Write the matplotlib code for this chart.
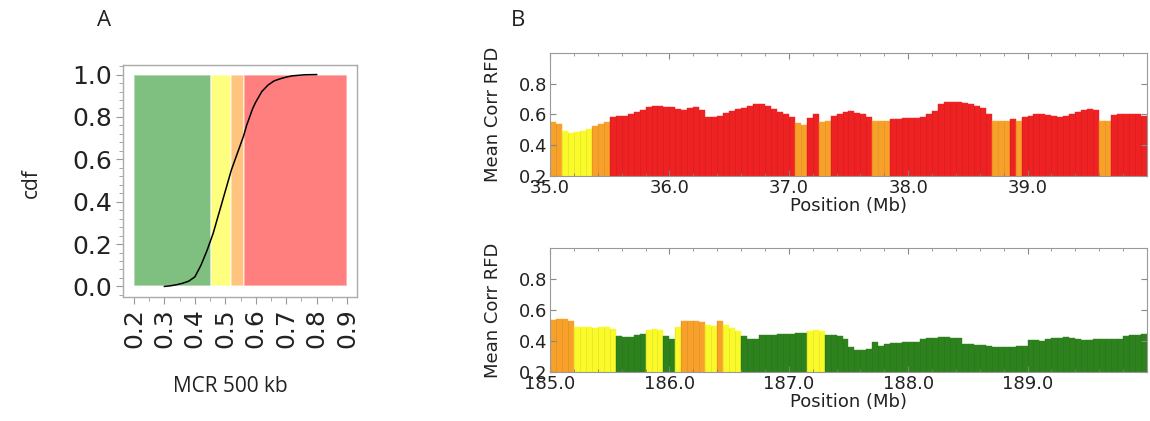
import numpy as np
import matplotlib
matplotlib.use("Agg")
import matplotlib.pyplot as plt
from matplotlib.ticker import MultipleLocator

# MCR cut-offs between the four classes (green / yellow / orange / red)
class_edges = [0.2, 0.453, 0.52, 0.563, 0.9]
span_colors = ["green", "yellow", "darkorange", "red"]
bar_colors = ["#2d821e", "#fafa2a", "#f7a02a", "#ee2222"]

# cumulative distribution of the 500 kb MCR
cdf_x = [0.30, 0.32, 0.34, 0.36, 0.38, 0.40, 0.42, 0.44, 0.46, 0.48,
         0.50, 0.52, 0.54, 0.56, 0.57, 0.58, 0.59, 0.60, 0.61, 0.62,
         0.63, 0.64, 0.65, 0.66, 0.68, 0.70, 0.72, 0.76, 0.80]
cdf_y = [0.0, 0.003, 0.008, 0.015, 0.025, 0.045, 0.10, 0.17, 0.25, 0.35,
         0.45, 0.55, 0.63, 0.71, 0.76, 0.80, 0.84, 0.87, 0.895, 0.92,
         0.935, 0.95, 0.96, 0.97, 0.98, 0.988, 0.994, 0.999, 1.0]

# mean corr RFD in 50 kb bins
bin_mb = 0.05
reg1_start = 35.0
reg1_rfd = [
    0.55, 0.54, 0.49, 0.48, 0.485, 0.495, 0.505, 0.525, 0.535, 0.55,
    0.585, 0.59, 0.59, 0.60, 0.615, 0.625, 0.645, 0.655, 0.655, 0.65,
    0.645, 0.635, 0.625, 0.64, 0.645, 0.625, 0.58, 0.585, 0.59, 0.61,
    0.62, 0.635, 0.64, 0.655, 0.67, 0.67, 0.655, 0.635, 0.615, 0.605,
    0.58, 0.545, 0.53, 0.575, 0.605, 0.55, 0.555, 0.59, 0.605, 0.615,
    0.62, 0.61, 0.60, 0.585, 0.555, 0.555, 0.555, 0.57, 0.57, 0.575,
    0.575, 0.575, 0.58, 0.60, 0.62, 0.665, 0.68, 0.68, 0.68, 0.675,
    0.665, 0.655, 0.64, 0.60, 0.555, 0.555, 0.555, 0.57, 0.555, 0.585,
    0.59, 0.60, 0.605, 0.595, 0.59, 0.585, 0.59, 0.60, 0.615, 0.625,
    0.635, 0.63, 0.555, 0.56, 0.595, 0.60, 0.60, 0.605, 0.60, 0.59,
]
reg2_start = 185.0
reg2_rfd = [
    0.535, 0.54, 0.54, 0.53, 0.49, 0.487, 0.487, 0.485, 0.487, 0.49,
    0.48, 0.43, 0.425, 0.425, 0.435, 0.445, 0.468, 0.478, 0.47, 0.43,
    0.41, 0.49, 0.53, 0.532, 0.53, 0.525, 0.50, 0.495, 0.53, 0.50,
    0.485, 0.465, 0.43, 0.415, 0.41, 0.44, 0.44, 0.44, 0.442, 0.445,
    0.447, 0.448, 0.45, 0.465, 0.468, 0.462, 0.44, 0.44, 0.43, 0.41,
    0.36, 0.34, 0.342, 0.35, 0.395, 0.37, 0.38, 0.385, 0.387, 0.39,
    0.39, 0.395, 0.41, 0.42, 0.42, 0.422, 0.422, 0.42, 0.42, 0.38,
    0.378, 0.375, 0.372, 0.37, 0.362, 0.36, 0.36, 0.362, 0.365, 0.368,
    0.405, 0.405, 0.402, 0.415, 0.418, 0.42, 0.422, 0.42, 0.415, 0.405,
    0.403, 0.41, 0.412, 0.41, 0.41, 0.41, 0.432, 0.435, 0.44, 0.447,
]

fig = plt.figure(figsize=(11.5, 4.21), dpi=100)

# ---- A: cdf with class bands
ax = fig.add_axes([0.107, 0.2945, 0.2035, 0.551])
for i in range(4):
    ax.fill_between([class_edges[i], class_edges[i + 1]], 0, 1,
                    color=span_colors[i], alpha=0.5, lw=1.2, edgecolor="white")
ax.plot(cdf_x, cdf_y, color="black", lw=1.1)
ax.set_xlim(0.164, 0.933)
ax.set_ylim(-0.05, 1.045)
ax.set_xticks(np.arange(0.2, 0.91, 0.1))
ax.set_xticklabels(["%.1f" % v for v in np.arange(0.2, 0.91, 0.1)], rotation=90)
ax.set_yticks(np.arange(0, 1.01, 0.2))
ax.xaxis.set_minor_locator(MultipleLocator(0.05))
ax.yaxis.set_minor_locator(MultipleLocator(0.04))
ax.tick_params(which="both", direction="out", color="#999999", labelsize=18,
               labelcolor="#222222", top=False, right=False)
ax.tick_params(which="major", length=5, pad=3)
ax.tick_params(which="minor", length=3)
for s in ax.spines.values():
    s.set_color("#aaaaaa")
    s.set_linewidth(1.0)

fig.text(0.0845, 0.952, "A", fontsize=16, family="Open Sans", color="#222222",
         ha="left", va="center")
fig.text(0.027, 0.565, "cdf", fontsize=15, family="Open Sans", color="#222222",
         rotation=90, ha="center", va="center")
fig.text(0.2, 0.083, "MCR 500 kb", fontsize=15, family="Open Sans",
         color="#222222", ha="center", va="center")
fig.text(0.444, 0.952, "B", fontsize=16, family="Open Sans", color="#222222",
         ha="left", va="center")


def rfd_panel(rect, start, values):
    a = fig.add_axes(rect)
    vals = np.array(values)
    pos = start + np.arange(len(vals)) * bin_mb
    cls = np.digitize(vals, class_edges[1:4])
    cols = [bar_colors[c] for c in cls]
    a.bar(pos, vals - 0.2, bottom=0.2, width=bin_mb, align="edge",
          color=cols, edgecolor=cols, linewidth=0.3)
    # faint bin separators
    a.vlines(pos[1:], 0.2, vals[1:] - 0.004, color="black", alpha=0.08, lw=0.6)
    a.set_xlim(start, start + 5.0)
    a.set_ylim(0.2, 1.0)
    a.set_xticks(start + np.arange(0, 5))
    a.set_xticklabels(["%.1f" % v for v in start + np.arange(0, 5)])
    a.set_yticks([0.2, 0.4, 0.6, 0.8])
    a.xaxis.set_minor_locator(MultipleLocator(0.2))
    a.tick_params(which="both", direction="in", top=True, right=True,
                  color="#888888", labelsize=13, labelcolor="#222222", pad=2)
    a.tick_params(which="major", length=4)
    a.tick_params(which="minor", length=2)
    for s in a.spines.values():
        s.set_color("#999999")
        s.set_linewidth(0.8)
    a.set_xlabel("Position (Mb)", fontsize=13, color="#222222", labelpad=0)
    a.set_ylabel("Mean Corr RFD", fontsize=13, color="#222222", labelpad=12)
    return a


rfd_panel([0.4783, 0.582, 0.519, 0.2928], reg1_start, reg1_rfd)
rfd_panel([0.4783, 0.117, 0.519, 0.2932], reg2_start, reg2_rfd)

fig.savefig("out.png", dpi=100)
